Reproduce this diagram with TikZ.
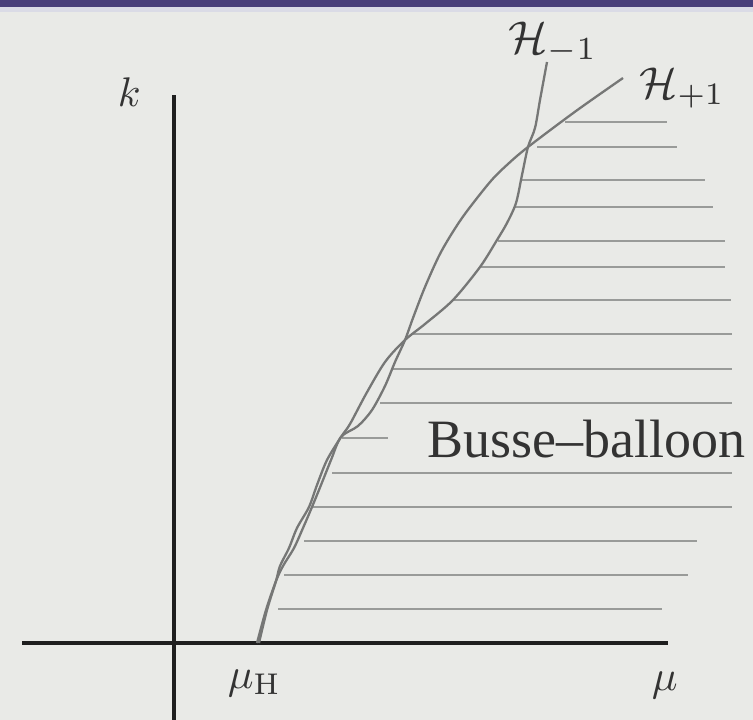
\documentclass[tikz,border=0pt]{standalone}
\usepackage{fontspec}
\newfontfamily\tnr{Liberation Serif}
\definecolor{bgcol}{HTML}{E9EAE7}
\definecolor{banddark}{HTML}{483E7A}
\definecolor{bandlight}{HTML}{DADBE6}
\definecolor{curvegray}{HTML}{767776}
\definecolor{hatchgray}{HTML}{999B99}
\definecolor{labelgray}{HTML}{333333}
\begin{document}
\begin{tikzpicture}[x=1pt,y=-1pt,
  axis/.style={line width=3.6pt,color=black!88},
  curve/.style={line width=2.3pt,color=curvegray,line join=round},
  hatch/.style={line width=2.8pt,color=hatchgray},
  mathlbl/.style={inner sep=0pt,text=labelgray,scale=4.6},
]
\useasboundingbox (0,0) rectangle (753,720);
\fill[bgcol] (0,0) rectangle (753,720);
\fill[bandlight] (0,6) rectangle (753,12);
\fill[banddark] (0,0) rectangle (753,7);

% hatching of the Busse balloon
\foreach \y/\a/\b in {122/565/667,147/537/677,180/520/705,207/515/713,241/498/725,
  267/481/725,300/452/731,334/412/732,369/393/732,403/380/732,438/342/388,
  473/332/732,507/312/732,541/304/697,575/284/688,609/278/662}
  \draw[hatch] (\a,\y) -- (\b,\y);

% axes
\draw[axis] (22,643) -- (668,643);
\draw[axis] (174,95) -- (174,720);

% H_{+1}
\draw[curve] plot[smooth,tension=0.5] coordinates {
  (623,78) (576,111) (528,147) (508,164) (490,182) (462,218) (441,252)
  (425,287) (413,318) (405,340) (395,362) (385,386) (372,410) (358,426) (341,437)
  (331,460) (321,485) (312,507) (303,528) (294,548) (283,566) (276,581)
  (266,610) (257,643)};
% H_{-1}
\draw[curve] plot[smooth,tension=0.5] coordinates {
  (547,62) (540,100) (535,128) (528,147) (522,175) (516,203) (507,223)
  (497,240) (480,267) (453,300) (425,324) (405,340) (385,362) (366,394)
  (350,424) (341,437) (327,460) (317,485) (309,507) (297,528) (289,548)
  (280,566) (276,581) (267,610) (259,643)};

% labels
\node[mathlbl,anchor=base west,scale=0.9] (klbl) at (117,106) {$k$};
\node[mathlbl,anchor=base west] (hminus) at (508,53) {$\mathcal{H}_{-1}$};
\node[mathlbl,anchor=base west,scale=0.97] (hplus) at (639,98) {$\mathcal{H}_{+1}$};
\node[mathlbl,anchor=base west,scale=0.93] (muh) at (227,688) {$\mu_{\mathrm{H}}$};
\node[mathlbl,anchor=base west,scale=0.93] (mu) at (651,690) {$\mu$};
\node[inner sep=0pt,anchor=base west,text=labelgray,font=\tnr\fontsize{54}{64}\selectfont] (busse) at (427,457) {Busse–balloon};
\end{tikzpicture}
\end{document}
